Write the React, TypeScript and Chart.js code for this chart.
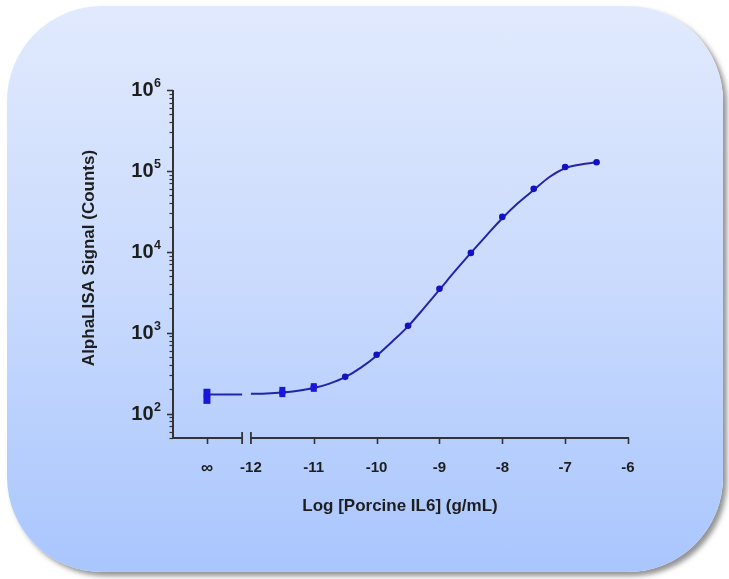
import { useEffect, useRef } from 'react';
import { Chart, registerables } from 'chart.js';

Chart.register(...registerables);

// x position used for the "∞" (zero concentration) category on the broken axis
const INF_POS = -12.7;
const BREAK_LEFT = -12.14;
const BREAK_RIGHT = -12.0;

const xTickValues = [INF_POS, -12, -11, -10, -9, -8, -7, -6];
const xTickLabels = ['∞', '-12', '-11', '-10', '-9', '-8', '-7', '-6'];
const xTickMarks = [INF_POS, -11, -10, -9, -8, -7, -6];

const yMajorValues = [100, 1000, 10000, 100000, 1000000];
const yMajorExponents = ['2', '3', '4', '5', '6'];
const yMinorValues = [
  50, 60, 70, 80, 90,
  200, 300, 400, 500, 600, 700, 800, 900,
  2000, 3000, 4000, 5000, 6000, 7000, 8000, 9000,
  20000, 30000, 40000, 50000, 60000, 70000, 80000, 90000,
  200000, 300000, 400000, 500000, 600000, 700000, 800000, 900000,
];

// measured points
const pointX = [INF_POS, -11.5, -11, -10.5, -10, -9.5, -9, -8.5, -8, -7.5, -7, -6.5];
const pointY = [165, 183, 213, 285, 535, 1220, 3500, 9700, 27000, 60000, 112000, 128000];

// error bars (low / high)
const errX = [INF_POS, -11.5, -11];
const errLow = [132, 160, 186];
const errHigh = [203, 214, 238];

// fitted curve
const curveX = [-12, -11.75, -11.5, -11.25, -11, -10.75, -10.5, -10.25, -10, -9.75, -9.5, -9.25, -9, -8.75, -8.5, -8.25, -8, -7.75, -7.5, -7.25, -7, -6.75, -6.5];
const curveY = [176, 178, 183, 192, 207, 235, 282, 370, 520, 780, 1200, 2000, 3400, 5800, 9700, 16000, 26000, 40000, 58000, 84000, 108000, 120000, 128000];

// bottom plateau on the left segment
const plateauX = [INF_POS, BREAK_LEFT];
const plateauY = [172, 173];

const X_MIN = -13.24;
const X_MAX = -6;
const Y_MIN = 50;
const Y_MAX = 1000000;

const FONT = '"Liberation Sans", Arial, Helvetica, sans-serif';

const axisPlugin = {
  id: 'customAxes',
  afterDatasetsDraw(chart: any) {
    const ctx = chart.ctx as CanvasRenderingContext2D;
    const xs = chart.scales.x;
    const ys = chart.scales.y;
    // error bars (drawn as dense blocks like the reference)
    ctx.save();
    ctx.fillStyle = '#1818dc';
    for (let i = 0; i < errX.length; i++) {
      const px = xs.getPixelForValue(errX[i]);
      const y1 = ys.getPixelForValue(errLow[i]);
      const y2 = ys.getPixelForValue(errHigh[i]);
      const w = i === 0 ? 7 : 6;
      ctx.fillRect(px - w / 2, Math.min(y1, y2), w, Math.abs(y1 - y2));
    }
    ctx.restore();
  },
  afterDraw(chart: any) {
    const ctx = chart.ctx as CanvasRenderingContext2D;
    const xs = chart.scales.x;
    const ys = chart.scales.y;
    const area = chart.chartArea;
    const axisColor = '#333333';
    ctx.save();
    ctx.strokeStyle = axisColor;
    ctx.fillStyle = '#1e1e1e';
    ctx.lineCap = 'butt';

    // Y axis line
    const ax = area.left;
    ctx.lineWidth = 2;
    ctx.beginPath();
    ctx.moveTo(ax, area.top);
    ctx.lineTo(ax, area.bottom + 1);
    ctx.stroke();

    // Y major ticks
    ctx.lineWidth = 1.6;
    for (const v of yMajorValues) {
      const py = Math.round(ys.getPixelForValue(v)) + 0.5;
      ctx.beginPath();
      ctx.moveTo(ax - 6, py);
      ctx.lineTo(ax, py);
      ctx.stroke();
    }
    ctx.lineWidth = 1.2;
    for (const v of yMinorValues) {
      const py = Math.round(ys.getPixelForValue(v)) + 0.5;
      ctx.beginPath();
      ctx.moveTo(ax - 3.5, py);
      ctx.lineTo(ax, py);
      ctx.stroke();
    }

    // Y labels 10^n
    for (let i = 0; i < yMajorValues.length; i++) {
      const py = ys.getPixelForValue(yMajorValues[i]);
      const right = ax - 12;
      ctx.font = `bold 12.5px ${FONT}`;
      const ew = ctx.measureText(yMajorExponents[i]).width;
      ctx.textAlign = 'left';
      ctx.textBaseline = 'middle';
      ctx.fillText(yMajorExponents[i], right - ew, py - 6);
      ctx.font = `bold 20px ${FONT}`;
      ctx.textAlign = 'right';
      ctx.fillText('10', right - ew - 0.5, py + 0.5);
    }

    // X axis (broken)
    const ay = area.bottom;
    const xl1 = area.left - 1;
    const xl2 = xs.getPixelForValue(BREAK_LEFT);
    const xr1 = xs.getPixelForValue(BREAK_RIGHT);
    const xr2 = area.right;
    ctx.lineWidth = 2.2;
    ctx.beginPath();
    ctx.moveTo(xl1, ay);
    ctx.lineTo(xl2, ay);
    ctx.moveTo(xr1, ay);
    ctx.lineTo(xr2 + 1, ay);
    ctx.stroke();
    // break bars
    ctx.lineWidth = 1.8;
    ctx.beginPath();
    ctx.moveTo(xl2, ay - 6);
    ctx.lineTo(xl2, ay + 6);
    ctx.moveTo(xr1, ay - 6);
    ctx.lineTo(xr1, ay + 6);
    ctx.stroke();
    // tick marks
    ctx.lineWidth = 1.6;
    for (const v of xTickMarks) {
      const px = Math.round(xs.getPixelForValue(v)) + 0.5;
      ctx.beginPath();
      ctx.moveTo(px, ay);
      ctx.lineTo(px, ay + 6);
      ctx.stroke();
    }
    // X labels
    ctx.textAlign = 'center';
    ctx.textBaseline = 'middle';
    for (let i = 0; i < xTickValues.length; i++) {
      const px = xs.getPixelForValue(xTickValues[i]);
      ctx.font = xTickLabels[i] === '∞' ? `bold 17px ${FONT}` : `bold 15px ${FONT}`;
      ctx.fillText(xTickLabels[i], px, ay + 30);
    }

    // Titles
    ctx.font = `bold 17px ${FONT}`;
    ctx.fillText('Log [Porcine IL6] (g/mL)', 400, 506);
    ctx.save();
    ctx.translate(89, 258);
    ctx.rotate(-Math.PI / 2);
    ctx.fillText('AlphaLISA Signal (Counts)', 0, 0);
    ctx.restore();

    ctx.restore();
  },
};

export default function App() {
  const canvasRef = useRef<HTMLCanvasElement | null>(null);

  useEffect(() => {
    if (!canvasRef.current) return;
    const chart = new Chart(canvasRef.current, {
      type: 'scatter',
      data: {
        datasets: [
          {
            label: 'points',
            data: pointX.map((x, i) => ({ x, y: pointY[i] })),
            showLine: false,
            pointRadius: 3.3,
            pointBackgroundColor: '#1212c0',
            pointBorderColor: '#1212c0',
            pointBorderWidth: 0,
            clip: false as any,
          },
          {
            label: 'curve',
            data: curveX.map((x, i) => ({ x, y: curveY[i] })),
            showLine: true,
            pointRadius: 0,
            borderColor: '#2424a8',
            borderWidth: 2,
            cubicInterpolationMode: 'monotone',
            fill: false,
          },
          {
            label: 'plateau',
            data: plateauX.map((x, i) => ({ x, y: plateauY[i] })),
            showLine: true,
            pointRadius: 0,
            borderColor: '#2424a8',
            borderWidth: 2,
            fill: false,
          },
        ],
      } as any,
      options: {
        animation: false,
        responsive: false,
        maintainAspectRatio: false,
        layout: { padding: { left: 173, right: 101, top: 90, bottom: 141 } },
        plugins: { legend: { display: false }, tooltip: { enabled: false }, title: { display: false } },
        scales: {
          x: { type: 'linear', min: X_MIN, max: X_MAX, display: false },
          y: { type: 'logarithmic', min: Y_MIN, max: Y_MAX, display: false },
        },
      } as any,
      plugins: [axisPlugin],
    });
    return () => chart.destroy();
  }, []);

  return (
    <div style={{ position: 'absolute', left: 0, top: 0, width: 729, height: 579, overflow: 'hidden', background: '#ffffff' }}>
      <div
        style={{
          position: 'absolute',
          left: 7,
          top: 6,
          width: 716,
          height: 566,
          borderRadius: 95,
          background: 'linear-gradient(to bottom, #e1eafd 0%, #c9dafd 50%, #a9c6fd 100%)',
          boxShadow: '4px 4px 5px rgba(60,60,60,0.55)',
        }}
      />
      <canvas ref={canvasRef} width={729} height={579} style={{ position: 'absolute', left: 0, top: 0, width: 729, height: 579 }} />
    </div>
  );
}
